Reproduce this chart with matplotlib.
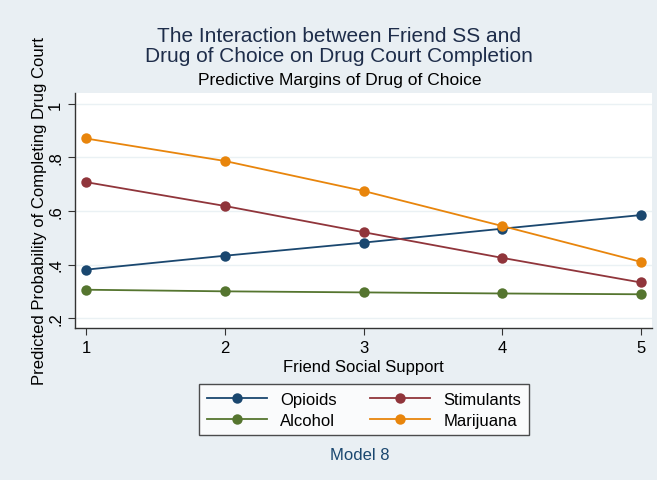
import matplotlib
matplotlib.use("Agg")
import matplotlib.pyplot as plt

plt.rcParams['font.family'] = ['Liberation Sans', 'DejaVu Sans']

# Predictive margins by level of friend social support
support_levels = [1, 2, 3, 4, 5]
opioids = [0.381, 0.433, 0.482, 0.534, 0.585]
stimulants = [0.708, 0.619, 0.521, 0.425, 0.333]
alcohol = [0.306, 0.300, 0.296, 0.292, 0.289]
marijuana = [0.871, 0.787, 0.675, 0.544, 0.410]

y_ticks = [0.2, 0.4, 0.6, 0.8, 1.0]
y_tick_labels = ['.2', '.4', '.6', '.8', '1']

series = [
    ('Opioids', opioids, '#1a476f'),
    ('Stimulants', stimulants, '#90353b'),
    ('Alcohol', alcohol, '#55752f'),
    ('Marijuana', marijuana, '#e8850c'),
]

bg = '#e9eff3'
fig = plt.figure(figsize=(6.57, 4.81), dpi=100, facecolor=bg)
ax = fig.add_axes([0.1142, 0.316, 0.8782, 0.4886])
ax.set_facecolor('white')

lines = {}
for name, vals, color in series:
    ln, = ax.plot(support_levels, vals, color=color, lw=1.3, marker='o',
                  markersize=7.5, markeredgewidth=0, label=name, zorder=3)
    lines[name] = ln

ax.set_xlim(0.921, 5.079)
ax.set_ylim(0.163, 1.041)
ax.set_xticks(support_levels)
ax.set_yticks(y_ticks)
ax.set_yticklabels(y_tick_labels, rotation=90, va='center')
ax.tick_params(axis='both', labelsize=12, color='#333333', length=5,
               direction='out')
ax.yaxis.grid(True, color='#eaf1f4', lw=1.0)
ax.set_axisbelow(True)
for side in ('top', 'right'):
    ax.spines[side].set_visible(False)
for side in ('left', 'bottom'):
    ax.spines[side].set_color('#333333')
    ax.spines[side].set_linewidth(1.0)

ax.set_xlabel('Friend Social Support', fontsize=12, labelpad=3)
ax.set_ylabel('Predicted Probability of Completing Drug Court', fontsize=12,
              labelpad=1)

# Titles
fig.text(0.516, 0.904, 'The Interaction between Friend SS and\n'
         'Drug of Choice on Drug Court Completion',
         ha='center', va='center', fontsize=15, color='#1e2d4a',
         linespacing=1.08)
fig.text(0.517, 0.832, 'Predictive Margins of Drug of Choice',
         ha='center', va='center', fontsize=12.5, color='black')

# Legend in two columns below the plot
handles = [lines['Opioids'], lines['Alcohol'],
           lines['Stimulants'], lines['Marijuana']]
leg = fig.legend(handles=handles, labels=[h.get_label() for h in handles],
                 ncol=2, loc='center', bbox_to_anchor=(0.554, 0.146),
                 fontsize=12, frameon=True, fancybox=False, handlelength=3.6,
                 columnspacing=2.0, borderpad=0.45, labelspacing=0.38,
                 handletextpad=0.8, edgecolor='#222222')
leg.get_frame().set_linewidth(1.0)

fig.text(0.548, 0.054, 'Model 8', ha='center', va='center', fontsize=12,
         color='#1a476f')

fig.savefig('out.png', dpi=100, facecolor=bg)
